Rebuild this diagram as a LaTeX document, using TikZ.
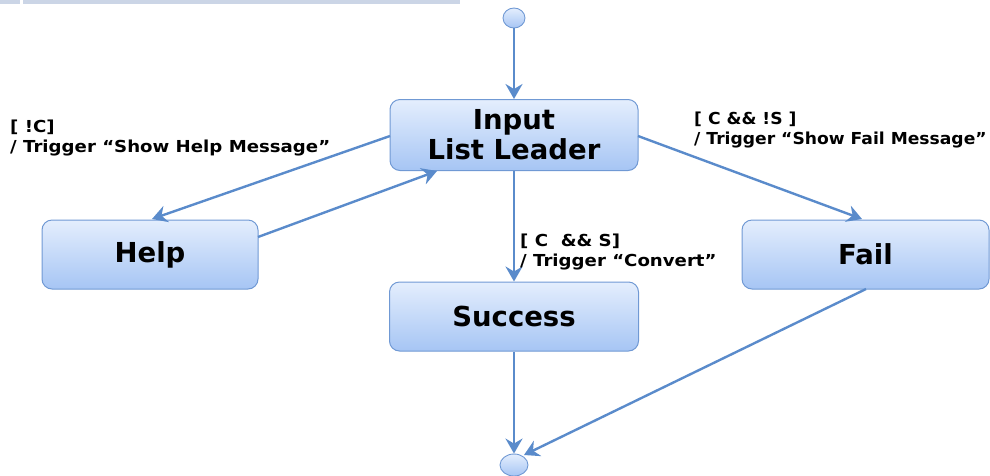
\documentclass[tikz,border=0pt]{standalone}
\usepackage{fontspec}
\setmainfont{DejaVu Sans}
\newfontfamily\guardfont[FakeStretch=1.1]{DejaVu Sans}
\newfontfamily\guardfontnarrow[FakeStretch=1.04]{DejaVu Sans}
\usetikzlibrary{arrows.meta,shapes.geometric}
\definecolor{edgeblue}{HTML}{5A8BCB}
\definecolor{boxline}{HTML}{7099D4}
\definecolor{boxtop}{HTML}{E4EEFD}
\definecolor{boxbot}{HTML}{A6C5F4}
\definecolor{barcol}{HTML}{CBD5E6}
\tikzset{
  statebox/.style={draw=boxline, line width=1pt, rounded corners=10pt,
    top color=boxtop, bottom color=boxbot, font=\bfseries\fontsize{27.5}{30}\selectfont,
    align=center, inner sep=0pt},
  pseudo/.style={ellipse, draw=boxline, line width=0.9pt, top color=boxtop,
    bottom color=boxbot, minimum width=22pt, minimum height=20pt, inner sep=0pt},
  trans/.style={draw=edgeblue, line width=2.4pt,
    -{Stealth[length=15pt,width=17pt,inset=5pt]}},
  guard/.style={font=\guardfont\bfseries\fontsize{16.5}{20}\selectfont, align=left,
    anchor=north west, inner sep=0pt}
}
\begin{document}
\begin{tikzpicture}[x=1pt,y=-1pt]
\useasboundingbox (0,0) rectangle (990,475);
% header band
\fill[barcol] (0,0) rectangle (20,3.5);
\fill[barcol] (23,0) rectangle (460,3.5);

% states
\node[statebox, minimum width=248pt, minimum height=71pt] (input) at (514,135) {Input\\List Leader};
\node[statebox, minimum width=216pt, minimum height=69pt] (help) at (150,254.5) {Help};
\node[statebox, minimum width=249pt, minimum height=69pt] (success) at (514,316.5) {Success};
\node[statebox, minimum width=247pt, minimum height=69pt] (fail) at (865.5,254.5) {Fail};

% initial and final pseudo-states
\node[pseudo] (init) at (514,18) {};
\node[pseudo, minimum width=28pt, minimum height=22pt] (final) at (514,465) {};

% endpoints on box borders
\coordinate (inL) at (390,136);
\coordinate (inR) at (638,136);
\coordinate (inB) at (437,171);
\coordinate (helpT) at (152,219);
\coordinate (helpR) at (258,237);
\coordinate (failT) at (862,219);
\coordinate (failB) at (866,289);
\coordinate (finR) at (524,455);

% transitions
\draw[trans] (init) -- (input);
\draw[trans] (inL) -- (helpT);
\draw[trans] (helpR) -- (inB);
\draw[trans] (input) -- (success);
\draw[trans] (inR) -- (failT);
\draw[trans] (success) -- (final);
\draw[trans] (failB) -- (finR);

% guards and triggers
\node[guard] (gHelp) at (10,120) {[ !C]\\/ Trigger “Show Help Message”};
\node[guard, font=\guardfontnarrow\bfseries\fontsize{16.5}{20}\selectfont] (gFail) at (694,112) {[ C \&\& !S ]\\/ Trigger “Show Fail Message”};
\node[guard] (gConv) at (520,234) {[ C~~\&\& S]\\/ Trigger “Convert”};
\end{tikzpicture}
\end{document}
